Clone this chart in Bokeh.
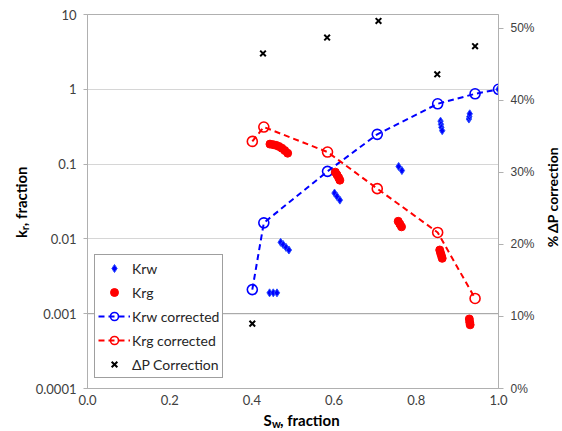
from math import pi
from bokeh.plotting import figure
from bokeh.layouts import row, column
from bokeh.core.properties import value
from bokeh.models import (Range1d, LinearAxis, LinearScale, FixedTicker, NumeralTickFormatter,
                          CustomJSTickFormatter, Legend, LegendItem, Span)
from bokeh.embed import file_html
from bokeh.resources import INLINE

# ---------------- data ----------------
krw_sw = [0.443, 0.452, 0.461, 0.470, 0.476, 0.483, 0.490, 0.601, 0.607, 0.614,
          0.757, 0.765, 0.859, 0.860, 0.861, 0.863, 0.928, 0.929, 0.930, 1.0]
krw = [0.0019, 0.0019, 0.0019, 0.0090, 0.0084, 0.0077, 0.0071, 0.041, 0.037, 0.033,
       0.093, 0.082, 0.375, 0.34, 0.31, 0.28, 0.40, 0.43, 0.47, 1.0]

krg_sw = [0.444, 0.452, 0.459, 0.466, 0.473, 0.480, 0.487, 0.603, 0.607, 0.611, 0.614,
          0.756, 0.760, 0.764, 0.857, 0.859, 0.861, 0.863, 0.929, 0.930, 0.931]
krg = [0.185, 0.182, 0.178, 0.172, 0.163, 0.152, 0.140, 0.078, 0.072, 0.066, 0.061,
       0.0172, 0.0158, 0.0145, 0.0071, 0.0065, 0.0060, 0.0055, 0.00085, 0.00077, 0.00071]

krw_corr_sw = [0.401, 0.429, 0.584, 0.705, 0.852, 0.943, 1.0]
krw_corr = [0.0021, 0.0164, 0.080, 0.25, 0.64, 0.87, 1.0]

krg_corr_sw = [0.401, 0.429, 0.584, 0.705, 0.852, 0.943]
krg_corr = [0.201, 0.313, 0.145, 0.047, 0.0122, 0.0016]

dp_sw = [0.401, 0.427, 0.583, 0.708, 0.851, 0.943]
dp_corr = [0.090, 0.465, 0.487, 0.510, 0.436, 0.475]

x_ticks = [0.0, 0.2, 0.4, 0.6, 0.8, 1.0]
y_ticks = [0.0001, 0.001, 0.01, 0.1, 1, 10]
dp_ticks = [0.0, 0.1, 0.2, 0.3, 0.4, 0.5]

# ---------------- geometry ----------------
W, H = 562, 431
LEFT_W = 32          # strip holding the rotated y title
RIGHT_W = 20         # strip holding the right title
FT, FW, FH = 14, 412, 374
MAIN_B = 22
MAIN_L = 86 - LEFT_W
MAIN_R = W - RIGHT_W - 86 - FW
MAIN_H = FT + FH + MAIN_B
MAIN_W = W - LEFT_W - RIGHT_W
BOTTOM_H = H - MAIN_H  # strip holding the x title

# ---------------- main figure ----------------
p = figure(width=MAIN_W, height=MAIN_H, title=None,
           min_border_left=MAIN_L, min_border_right=MAIN_R,
           min_border_top=FT, min_border_bottom=MAIN_B,
           x_range=Range1d(0, 1), y_range=Range1d(1e-4, 10),
           y_axis_type="log", output_backend="svg", toolbar_location=None)
p.background_fill_color = "white"
p.border_fill_color = "white"
p.outline_line_color = "#B0B0B0"
p.xgrid.grid_line_color = None
p.ygrid.grid_line_color = "#D6D6D6"
p.ygrid.ticker = FixedTicker(ticks=y_ticks)

la = p.left[0]
la.ticker = FixedTicker(ticks=y_ticks)
la.formatter = CustomJSTickFormatter(code="return tick.toString();")
la.axis_line_color = "#B0B0B0"
la.major_tick_line_color = "#B0B0B0"
la.major_tick_out = 4
la.major_tick_in = 0
la.minor_tick_line_color = None
la.major_label_standoff = 7
la.major_label_text_font = "Lato"
la.major_label_text_font_size = "13px"
la.major_label_text_color = "#404040"

ba = p.below[0]
ba.ticker = FixedTicker(ticks=x_ticks)
ba.formatter = NumeralTickFormatter(format="0.0")
ba.axis_line_color = "#B0B0B0"
ba.major_tick_line_color = None
ba.major_tick_out = 0
ba.major_tick_in = 0
ba.minor_tick_line_color = None
ba.major_label_standoff = 6
ba.major_label_text_font = "Lato"
ba.major_label_text_font_size = "13px"
ba.major_label_text_color = "#404040"

p.extra_y_ranges = {"dp": Range1d(0, 0.519)}
p.extra_y_scales = {"dp": LinearScale()}
ra = LinearAxis(y_range_name="dp", ticker=FixedTicker(ticks=dp_ticks),
                formatter=NumeralTickFormatter(format="0%"))
ra.axis_line_color = "#B0B0B0"
ra.major_tick_line_color = "#B0B0B0"
ra.major_tick_out = 5
ra.major_tick_in = 0
ra.minor_tick_line_color = None
ra.major_label_standoff = 7
ra.major_label_text_font = "Liberation Sans"
ra.major_label_text_font_size = "12px"
ra.major_label_text_color = "#404040"
p.add_layout(ra, "right")

p.add_layout(Span(location=0.001, dimension="width", line_color="#A0A0A0",
                  line_width=1, level="underlay"))

BLUE = "#0000FF"
RED = "#FF0000"
lb = p.line(krw_corr_sw, krw_corr, line_color=BLUE, line_width=2, line_dash="6 4")
lr = p.line(krg_corr_sw, krg_corr, line_color=RED, line_width=2, line_dash="6 4")
cb = p.scatter(krw_corr_sw, krw_corr, marker="circle", size=10, fill_color=None,
               line_color=BLUE, line_width=1.6)
cr = p.scatter(krg_corr_sw, krg_corr, marker="circle", size=10, fill_color=None,
               line_color=RED, line_width=1.6)
rw = p.scatter(krw_sw, krw, marker="diamond", size=8, fill_color=BLUE,
               line_color="#2a4dff", line_width=1)
rg = p.scatter(krg_sw, krg, marker="circle", size=8, fill_color=RED, line_color=RED)
rd = p.scatter(dp_sw, dp_corr, marker="x", size=8, line_color="black", line_width=2,
               y_range_name="dp")

legend = Legend(items=[
    LegendItem(label="Krw", renderers=[rw]),
    LegendItem(label="Krg", renderers=[rg]),
    LegendItem(label="Krw corrected", renderers=[lb, cb]),
    LegendItem(label="Krg corrected", renderers=[lr, cr]),
    LegendItem(label="\u0394P Correction", renderers=[rd]),
], location=(7, 10))
legend.border_line_color = "#404040"
legend.border_line_width = 1
legend.background_fill_color = "white"
legend.background_fill_alpha = 1
legend.label_text_font = "Lato"
legend.label_text_font_size = "14px"
legend.label_text_color = "#262626"
legend.padding = 3
legend.spacing = 4
legend.label_height = 20
legend.glyph_height = 20
legend.glyph_width = 32
legend.label_standoff = 2
legend.margin = 0
p.add_layout(legend)


# ---------------- title strips (pixel coordinate figures) ----------------
def strip(w, h):
    f = figure(width=w, height=h, min_border=0, title=None, x_range=Range1d(0, w),
               y_range=Range1d(h, 0), x_axis_location=None, y_axis_location=None,
               output_backend="svg", toolbar_location=None)
    f.grid.grid_line_color = None
    f.outline_line_color = None
    f.background_fill_color = "white"
    f.border_fill_color = "white"
    return f


def put(f, x, y, txt, size, angle=0.0, align="left", baseline="alphabetic"):
    f.text(x=[x], y=[y], text=[txt], angle=angle, text_font=value("Lato"),
           text_font_style="bold", text_font_size=f"{size}px", text_color="black",
           text_align=align, text_baseline=baseline)


SHIFT = 6  # empirical correction of the rendered baseline
left = strip(LEFT_W, MAIN_H)
put(left, 26.5 - SHIFT, 245, "k", 15, angle=pi / 2)
put(left, 29.5 - SHIFT, 236.5, "r", 11, angle=pi / 2)
put(left, 26.5 - SHIFT, 232, ", fraction", 15, angle=pi / 2)

right = strip(RIGHT_W, MAIN_H)
put(right, 1, 200, "% \u0394P correction", 14, angle=pi / 2, align="center", baseline="top")

bottom = strip(W, BOTTOM_H)
y0 = MAIN_H
put(bottom, 263, 425.5 - y0 - SHIFT, "S", 15)
put(bottom, 271.5, 428.5 - y0 - SHIFT, "w", 11)
put(bottom, 279.5, 425.5 - y0 - SHIFT, ", fraction", 15)

layout = column(row(left, p, right, spacing=0), bottom, spacing=0)
open("out.html", "w").write(file_html(layout, INLINE))
